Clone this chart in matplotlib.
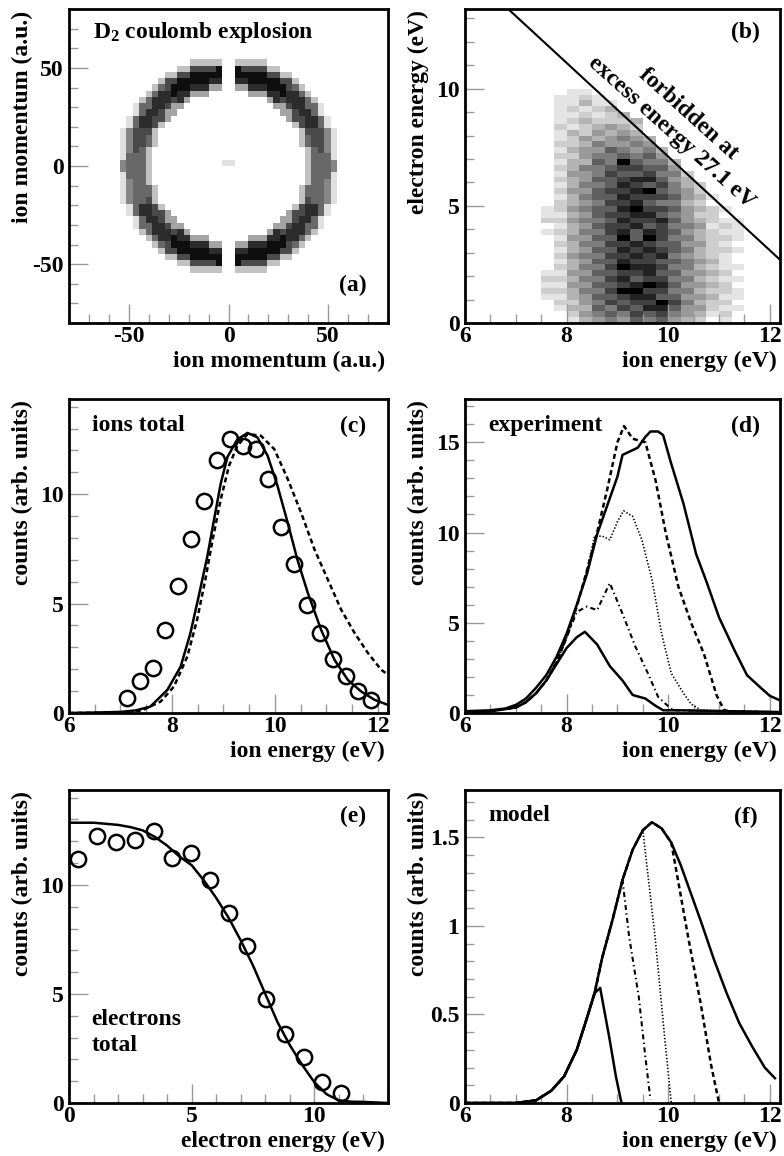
import numpy as np
import matplotlib
matplotlib.use("Agg")
import matplotlib.pyplot as plt
from matplotlib.colors import ListedColormap
from matplotlib.ticker import MultipleLocator, FuncFormatter

ring_r_edges = [38.0, 41.0, 44.0, 47.0, 50.0, 53.0, 56.0]   # a.u.
ring_r_vals = [0.3, 0.85, 1.0, 1.0, 0.7, 0.15]
ring_ang_step = 15  # degrees
ring_ang_vals = [0.6, 0.65, 0.8, 0.85, 0.9, 1.0, 1.0, 1.0, 0.9, 0.85, 0.8, 0.65,
                 0.6, 0.6, 0.75, 0.85, 0.9, 1.0, 1.0, 1.0, 0.9, 0.85, 0.75, 0.6]
ring_gap = 4.0  # |px| below this is empty
stray_px = [-1.6, 1.6]
stray_py = [1.6, 1.6]
stray_val = [0.12, 0.12]

# ---- (b) electron energy vs ion energy, gray level 0-9 per 0.25 eV cell
b_x0, b_dx = 7.5, 0.25
b_y0, b_dy = 0.0, 0.25
b_rows_top_down = [
    "0011000000000000",  # 9.75
    "0112100000000000",
    "0113110000000000",
    "0121230000000000",
    "0112123000000000",
    "0123222300000000",
    "0212343200000000",
    "0132434300000000",
    "0124345430000000",
    "0223544540000000",
    "0134465453000000",
    "0224556564000000",
    "0133659655300000",
    "0235567766400000",
    "0144576675520000",
    "0234667886430000",
    "0135568767532000",
    "0244677896542000",
    "0135668777643100",
    "0234577865532000",
    "1245668977643210",
    "1134677886542200",
    "2245568778643211",
    "0134677867554121",
    "1235578687643211",
    "0144669697553221",
    "0235577876644210",
    "0134668787653221",
    "0245577878543210",
    "0134668776654310",
    "0235579887553211",
    "1144667786644320",
    "2235578677553211",
    "1144667898644320",
    "2235579977553221",
    "1134667886644311",
    "0224576779753220",
    "0133657688644211",
    "0024565767543120",
    "0013454656432010",  # 0.0
]
excess_energy = 27.1
line_ion = [6.0, 12.2]

# ---- (c) ions total
c_pts_x = [7.125, 7.375, 7.625, 7.875, 8.125, 8.375, 8.625, 8.875, 9.125, 9.375,
           9.625, 9.875, 10.125, 10.375, 10.625, 10.875, 11.125, 11.375, 11.625, 11.875]
c_pts_y = [0.67, 1.44, 2.05, 3.81, 5.79, 7.97, 9.69, 11.57, 12.52, 12.22,
           12.06, 10.69, 8.50, 6.83, 4.95, 3.66, 2.46, 1.67, 1.02, 0.60]
c_solid_x = [6.0, 6.5, 7.0, 7.3, 7.58, 7.91, 8.17, 8.36, 8.52, 8.69, 8.82, 8.95, 9.08,
             9.27, 9.47, 9.66, 9.86, 10.05, 10.25, 10.44, 10.64, 10.9, 11.16, 11.42,
             11.68, 11.94, 12.2]
c_solid_y = [0.0, 0.02, 0.05, 0.12, 0.29, 1.05, 2.12, 3.65, 5.33, 7.17, 8.85, 10.5, 11.7,
             12.5, 12.8, 12.6, 11.76, 10.4, 8.7, 7.0, 5.5, 3.8, 2.43, 1.51,
             0.98, 0.6, 0.37]
c_dash_x = [6.0, 7.0, 7.4, 7.78, 8.04, 8.3, 8.49, 8.65, 8.78, 8.95, 9.11, 9.27, 9.47,
            9.73, 9.99, 10.25, 10.51, 10.77, 11.03, 11.29, 11.55, 11.81, 12.07, 12.2]
c_dash_y = [0.0, 0.02, 0.1, 0.52, 1.21, 2.58, 4.27, 6.1, 7.78, 9.77, 11.3, 12.2, 12.75,
            12.67, 12.06, 10.7, 9.16, 7.48, 6.1, 4.72, 3.66, 2.74, 1.97, 1.75]

# ---- (d) experiment
d_tot_x = [6.0, 6.5, 6.8, 7.0, 7.2, 7.4, 7.6, 7.8, 8.0, 8.2, 8.4, 8.6, 8.8, 9.0, 9.1,
           9.25, 9.4, 9.55, 9.65, 9.8, 9.9, 10.05, 10.3, 10.55, 10.75, 11.0, 11.3,
           11.55, 11.8, 12.0, 12.2]
d_tot_y = [0.1, 0.15, 0.25, 0.45, 0.8, 1.4, 2.1, 3.1, 4.4, 6.0, 7.7, 9.9, 11.5, 13.1,
           14.3, 14.5, 14.7, 15.3, 15.6, 15.6, 15.4, 13.9, 11.6, 8.8, 7.3, 5.3, 3.5,
           2.1, 1.45, 0.95, 0.7]
d_dash_x = [6.0, 6.5, 7.0, 7.2, 7.4, 7.6, 7.8, 8.0, 8.2, 8.4, 8.6, 8.8, 9.0, 9.13, 9.3,
            9.55, 9.75, 9.95, 10.2, 10.45, 10.7, 10.95, 11.1, 11.4, 12.2]
d_dash_y = [0.05, 0.1, 0.3, 0.6, 1.1, 1.8, 2.8, 4.2, 5.9, 7.9, 10.0, 12.4, 15.0, 15.9,
            15.2, 15.0, 12.9, 10.0, 7.0, 5.0, 3.3, 1.0, 0.15, 0.05, 0.05]
d_dot_x = [6.0, 6.5, 7.0, 7.2, 7.4, 7.6, 7.8, 8.0, 8.2, 8.4, 8.55, 8.7, 8.85, 9.0,
           9.12, 9.3, 9.48, 9.68, 9.87, 10.06, 10.3, 10.45, 10.65, 12.2]
d_dot_y = [0.05, 0.1, 0.3, 0.6, 1.1, 1.8, 2.8, 4.2, 5.9, 7.9, 9.8, 9.8, 9.6, 10.6,
           11.2, 10.9, 9.6, 7.4, 4.4, 2.2, 1.1, 0.5, 0.15, 0.05]
d_dd_x = [6.0, 6.5, 7.0, 7.2, 7.4, 7.6, 7.8, 8.0, 8.2, 8.4, 8.6, 8.85, 9.1, 9.35, 9.6,
          9.8, 9.95, 10.1, 12.2]
d_dd_y = [0.05, 0.1, 0.3, 0.6, 1.1, 1.8, 2.8, 4.2, 5.6, 5.9, 5.7, 7.2, 5.5, 3.7, 2.2,
          0.9, 0.5, 0.15, 0.05]
d_low_x = [6.0, 6.5, 7.0, 7.2, 7.4, 7.6, 7.8, 8.0, 8.2, 8.36, 8.6, 8.85, 9.1, 9.3,
           9.55, 9.75, 9.9, 10.2, 12.2]
d_low_y = [0.05, 0.1, 0.3, 0.6, 1.1, 1.8, 2.7, 3.6, 4.2, 4.5, 3.8, 2.6, 1.8, 1.0,
           0.8, 0.4, 0.15, 0.15, 0.05]

# ---- (e) electrons total
e_pts_x = [0.38, 1.15, 1.91, 2.68, 3.45, 4.2, 4.98, 5.74, 6.51, 7.27, 8.04, 8.8,
           9.57, 10.33, 11.1]
e_pts_y = [11.2, 12.25, 11.95, 12.05, 12.45, 11.22, 11.44, 10.23, 8.71, 7.19, 4.79,
           3.16, 2.1, 0.96, 0.46]
e_fit_x = [0.0, 0.5, 1.0, 1.5, 2.0, 2.5, 3.0, 3.5, 4.0, 4.5, 5.0, 5.5, 6.0, 6.5, 7.0,
           7.5, 8.0, 8.5, 9.0, 9.5, 10.0, 10.5, 11.0, 11.5, 12.0, 13.0]
e_fit_y = [12.85, 12.85, 12.85, 12.8, 12.75, 12.65, 12.5, 12.2, 11.8, 11.3, 10.9,
           10.2, 9.4, 8.5, 7.45, 6.3, 5.0, 3.7, 2.65, 1.75, 0.95, 0.4, 0.12, 0.06,
           0.05, 0.0]

# ---- (f) model
f_tot_x = [6.0, 7.0, 7.4, 7.7, 7.95, 8.2, 8.4, 8.55, 8.7, 8.9, 9.1, 9.3, 9.5, 9.68,
           9.87, 10.06, 10.25, 10.45, 10.65, 10.9, 11.15, 11.4, 11.65, 11.9, 12.1]
f_tot_y = [0.0, 0.0, 0.015, 0.07, 0.15, 0.30, 0.48, 0.62, 0.82, 1.03, 1.26, 1.43,
           1.54, 1.585, 1.55, 1.47, 1.34, 1.18, 1.02, 0.81, 0.62, 0.45, 0.32, 0.20,
           0.14]
# each partial curve follows the total up to its cut, then drops
f_low_cut, f_low_x, f_low_y = 8.55, [8.66, 8.84, 8.97, 9.08], [0.65, 0.37, 0.15, 0.0]
f_dd_cut, f_dd_x, f_dd_y = 9.1, [9.23, 9.42, 9.55, 9.65], [0.94, 0.6, 0.26, 0.02]
f_dot_cut, f_dot_x, f_dot_y = 9.5, [9.74, 9.93, 10.06], [0.94, 0.37, 0.0]
f_dash_cut, f_dash_x, f_dash_y = 10.06, [10.39, 10.64, 10.84, 11.0], [0.94, 0.56, 0.22, 0.0]

plt.rcParams["font.family"] = ["Liberation Serif", "DejaVu Serif"]
plt.rcParams["font.weight"] = "bold"
plt.rcParams["font.size"] = 17
plt.rcParams["axes.labelweight"] = "bold"
plt.rcParams["mathtext.fontset"] = "custom"
plt.rcParams["mathtext.rm"] = "Liberation Serif:bold"
plt.rcParams["mathtext.it"] = "Liberation Serif:bold"
plt.rcParams["mathtext.bf"] = "Liberation Serif:bold"
plt.rcParams["axes.unicode_minus"] = False
plt.rcParams["lines.scale_dashes"] = False

W, H = 784, 1156
RIGHT_EDGE = 780  # right column stops short so the "12" labels stay inside
SOLID = dict(color="black", lw=1.8, ls="-")
DASH = dict(color="black", lw=1.8, ls=(0, (3.6, 2.4)))
DOT = dict(color="black", lw=1.2, ls=(0, (1.0, 1.4)))
DASHDOT = dict(color="black", lw=1.5, ls=(0, (3.6, 2.4, 1.0, 2.4)))


def box(l, t, r, b):
    return [l / W, 1 - b / H, (r - l) / W, (b - t) / H]


def style(ax, xmaj, xmin, ymaj, ymin, xlabel, ylabel):
    ax.xaxis.set_major_locator(MultipleLocator(xmaj))
    ax.xaxis.set_minor_locator(MultipleLocator(xmin))
    ax.yaxis.set_major_locator(MultipleLocator(ymaj))
    ax.yaxis.set_minor_locator(MultipleLocator(ymin))
    fmt = FuncFormatter(lambda v, p: f"{v:g}")
    ax.xaxis.set_major_formatter(fmt)
    ax.yaxis.set_major_formatter(fmt)
    ax.tick_params(which="both", direction="in", top=False, right=False,
                   color="#9a9a9a", width=1)
    ax.tick_params(which="major", length=14)
    ax.tick_params(which="minor", length=6.5)
    ax.tick_params(axis="x", pad=2)
    ax.tick_params(axis="y", pad=4)
    for s in ax.spines.values():
        s.set_linewidth(2)
    ax.set_xlabel(xlabel, loc="right")
    ax.set_ylabel(ylabel, loc="top")
    ax.xaxis.set_label_coords(0.99, -0.089)
    ax.yaxis.set_label_coords(-0.113, 0.995)


def corner(ax, x, y, s, ha="center"):
    ax.text(x, y, s, transform=ax.transAxes, ha=ha, va="center")


def main():
    fig = plt.figure(figsize=(W / 100, H / 100), dpi=100)

    # (a)
    ax = fig.add_axes(box(69, 9, 388, 323))
    edges = np.arange(-80, 80.01, 3.2)
    cen = 0.5 * (edges[1:] + edges[:-1])
    PX, PY = np.meshgrid(cen, cen)
    R = np.hypot(PX, PY)
    TH = np.degrees(np.arctan2(PY, PX)) % 360
    ri = np.digitize(R, ring_r_edges) - 1
    rv = np.array(ring_r_vals)[np.clip(ri, 0, len(ring_r_vals) - 1)]
    rv[(ri < 0) | (ri >= len(ring_r_vals))] = 0
    ai = np.round(TH / ring_ang_step).astype(int) % len(ring_ang_vals)
    Z = rv * np.array(ring_ang_vals)[ai]
    Z[np.abs(PX) < ring_gap] = 0
    for px, py, v in zip(stray_px, stray_py, stray_val):
        Z[np.searchsorted(edges, py) - 1, np.searchsorted(edges, px) - 1] = v
    Z = np.ma.masked_less(Z, 0.06)
    grays_a = ListedColormap(["#e0e0e0", "#c2c2c2", "#a4a4a4", "#868686",
                              "#686868", "#4a4a4a", "#2c2c2c", "#0e0e0e"])
    ax.pcolormesh(edges, edges, Z, cmap=grays_a, vmin=0, vmax=1, shading="flat")
    ax.set_xlim(-80, 80)
    ax.set_ylim(-80, 80)
    style(ax, 50, 10, 50, 10, "ion momentum (a.u.)", "ion momentum (a.u.)")
    corner(ax, 0.075, 0.924, "D$_2$ coulomb explosion", ha="left")
    corner(ax, 0.89, 0.121, "(a)")

    # (b)
    ax = fig.add_axes(box(465, 9, RIGHT_EDGE, 323))
    levels = np.array([[int(c) for c in row] for row in b_rows_top_down[::-1]], float)
    bx = b_x0 + b_dx * np.arange(levels.shape[1] + 1)
    by = b_y0 + b_dy * np.arange(levels.shape[0] + 1)
    grays_b = ListedColormap(["#e4e4e4", "#cdcdcd", "#b3b3b3", "#999999", "#7d7d7d",
                              "#5f5f5f", "#414141", "#222222", "#000000"])
    ax.pcolormesh(bx, by, np.ma.masked_equal(levels, 0), cmap=grays_b,
                  vmin=0.5, vmax=9.5, shading="flat")
    lx = np.array(line_ion)
    ax.plot(lx, excess_energy - 2 * lx, color="black", lw=1.5)
    ax.text(10.23, 8.53, "forbidden at\nexcess energy 27.1 eV", rotation=-42,
            rotation_mode="anchor", ha="center", va="center", multialignment="center",
            linespacing=1.25)
    ax.set_xlim(6, 12.2)
    ax.set_ylim(0, 13.4)
    style(ax, 2, 0.5, 5, 1, "ion energy (eV)", "electron energy (eV)")
    corner(ax, 0.89, 0.924, "(b)")

    # (c)
    ax = fig.add_axes(box(69, 399, 388, 713))
    ax.plot(c_solid_x, c_solid_y, **SOLID)
    ax.plot(c_dash_x, c_dash_y, **DASH)
    ax.plot(c_pts_x, c_pts_y, "o", mfc="none", mec="black", ms=11, mew=1.8)
    ax.set_xlim(6, 12.2)
    ax.set_ylim(0, 14.35)
    style(ax, 2, 0.5, 5, 1, "ion energy (eV)", "counts (arb. units)")
    corner(ax, 0.071, 0.917, "ions total", ha="left")
    corner(ax, 0.89, 0.912, "(c)")

    # (d)
    ax = fig.add_axes(box(465, 399, RIGHT_EDGE, 713))
    ax.plot(d_low_x, d_low_y, **SOLID)
    ax.plot(d_dd_x, d_dd_y, **DASHDOT)
    ax.plot(d_dot_x, d_dot_y, **DOT)
    ax.plot(d_dash_x, d_dash_y, **DASH)
    ax.plot(d_tot_x, d_tot_y, **SOLID)
    ax.set_xlim(6, 12.2)
    ax.set_ylim(0, 17.4)
    style(ax, 2, 0.5, 5, 1, "ion energy (eV)", "counts (arb. units)")
    corner(ax, 0.074, 0.917, "experiment", ha="left")
    corner(ax, 0.89, 0.912, "(d)")

    # (e)
    ax = fig.add_axes(box(69, 790, 388, 1103))
    ax.plot(e_fit_x, e_fit_y, **SOLID)
    ax.plot(e_pts_x, e_pts_y, "o", mfc="none", mec="black", ms=11, mew=1.8)
    ax.set_xlim(0, 13)
    ax.set_ylim(0, 14.35)
    style(ax, 5, 1, 5, 1, "electron energy (eV)", "counts (arb. units)")
    ax.text(0.071, 0.226, "electrons\ntotal", transform=ax.transAxes,
            ha="left", va="center", linespacing=1.3)
    corner(ax, 0.89, 0.915, "(e)")

    # (f)
    ax = fig.add_axes(box(465, 790, RIGHT_EDGE, 1103))
    ftx = np.array(f_tot_x)
    fty = np.array(f_tot_y)
    for cut, xs, ys, st in [(f_low_cut, f_low_x, f_low_y, SOLID),
                            (f_dd_cut, f_dd_x, f_dd_y, DASHDOT),
                            (f_dot_cut, f_dot_x, f_dot_y, DOT),
                            (f_dash_cut, f_dash_x, f_dash_y, DASH)]:
        keep = ftx <= cut
        ax.plot(np.r_[ftx[keep], xs], np.r_[fty[keep], ys], **st)
    ax.plot(ftx, fty, **SOLID)
    ax.set_xlim(6, 12.2)
    ax.set_ylim(0, 1.767)
    style(ax, 2, 0.5, 0.5, 0.1, "ion energy (eV)", "counts (arb. units)")
    corner(ax, 0.074, 0.917, "model", ha="left")
    corner(ax, 0.89, 0.912, "(f)")

    fig.savefig("out.png", dpi=100)


if __name__ == "__main__":
    main()
